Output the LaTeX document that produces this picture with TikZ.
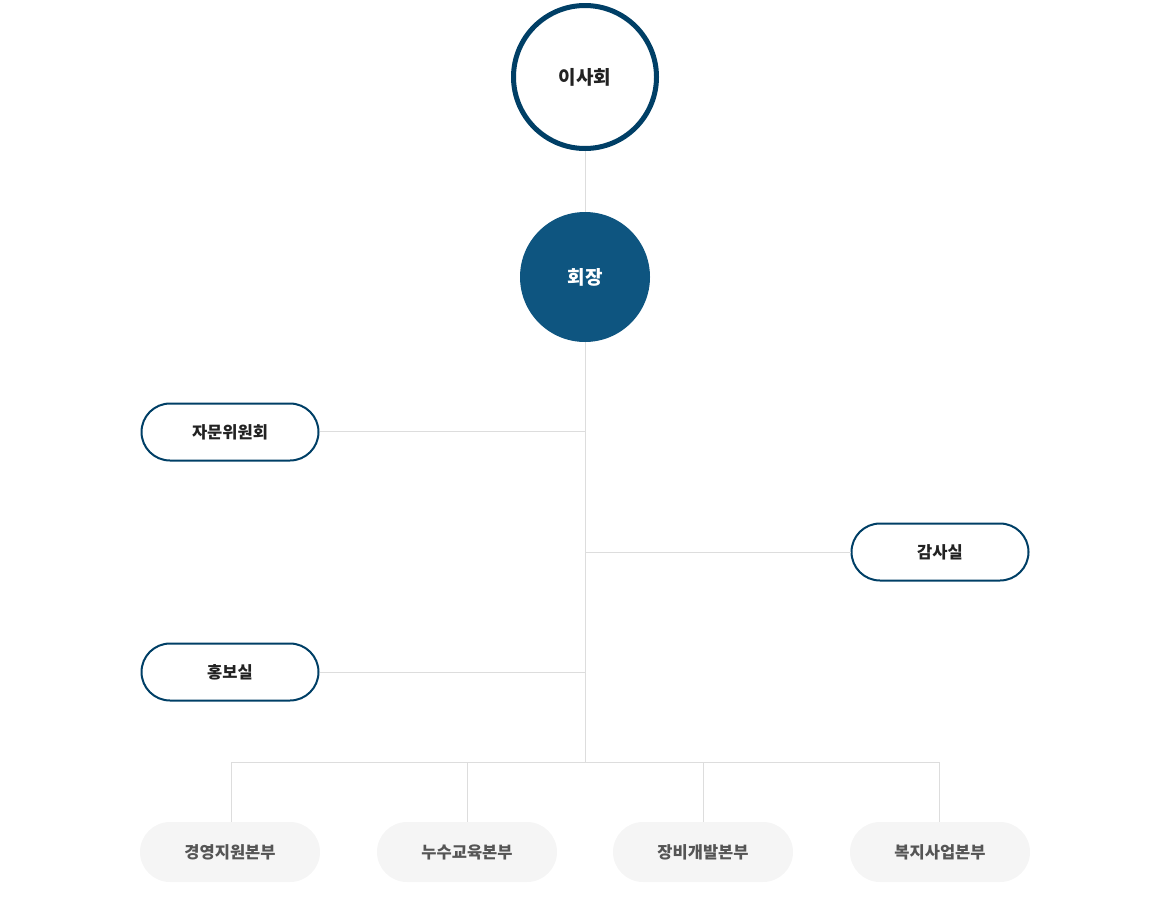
\documentclass[tikz,border=0pt]{standalone}
\usepackage{fontspec}
\usetikzlibrary{shapes.misc}
\newfontfamily\kr{Noto Sans CJK KR}
\definecolor{navy}{HTML}{003F66}
\definecolor{chief}{HTML}{0E5580}
\definecolor{conn}{HTML}{DDDDDD}
\definecolor{txt}{HTML}{222222}
\definecolor{subtxt}{HTML}{555555}
\definecolor{subfill}{HTML}{F5F5F5}
\begin{document}
\begin{tikzpicture}[x=1pt,y=-1pt,
  board/.style={circle,draw=navy,line width=5pt,fill=white,minimum size=143pt,inner sep=0pt,text=txt,font=\kr\bfseries\fontsize{19}{21}\selectfont},
  chair/.style={circle,fill=chief,minimum size=130pt,inner sep=0pt,text=white,font=\kr\bfseries\fontsize{19}{21}\selectfont},
  staff/.style={rounded rectangle,draw=navy,line width=2pt,fill=white,minimum width=177pt,minimum height=57pt,inner sep=0pt,text=txt,font=\kr\bfseries\fontsize{16.5}{18}\selectfont},
  dept/.style={rounded rectangle,fill=subfill,minimum width=180pt,minimum height=60pt,inner sep=0pt,text=subtxt,font=\kr\bfseries\fontsize{16.5}{18}\selectfont},
  link/.style={draw=conn,line width=1pt}]
\useasboundingbox (0,0) rectangle (1170,900);
\coordinate (top) at (585,151);
\coordinate (bus) at (585,762);
\coordinate (j1) at (585,431);
\coordinate (j2) at (585,552);
\coordinate (j3) at (585,672);
\coordinate (b1) at (231,762);
\coordinate (b2) at (467,762);
\coordinate (b3) at (703,762);
\coordinate (b4) at (939,762);
\node[dept] (d1) at (230,852) {경영지원본부};
\node[dept] (d2) at (467,852) {누수교육본부};
\node[dept] (d3) at (703,852) {장비개발본부};
\node[dept] (d4) at (940,852) {복지사업본부};
\path[link] (top) -- (bus);
\path[link] (b1) -- (b4);
\path[link] (b1) -- (b1 |- d1.north);
\path[link] (b2) -- (b2 |- d2.north);
\path[link] (b3) -- (b3 |- d3.north);
\path[link] (b4) -- (b4 |- d4.north);
\node[staff] (s1) at (230,432) {자문위원회};
\node[staff] (s2) at (940,552) {감사실};
\node[staff] (s3) at (230,672) {홍보실};
\path[link] (s1.east |- j1) -- (j1);
\path[link] (j2) -- (s2.west |- j2);
\path[link] (s3.east |- j3) -- (j3);
\node[board] (b) at (585,77) {이사회};
\node[chair] (c) at (585,277) {회장};
\end{tikzpicture}
\end{document}
